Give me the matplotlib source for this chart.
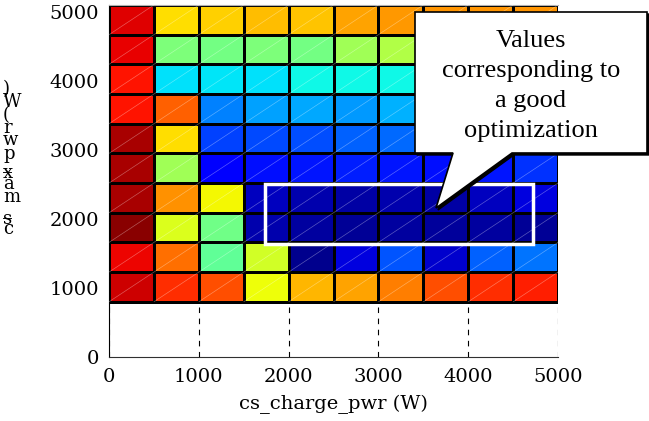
import numpy as np
import matplotlib
matplotlib.use("Agg")
import matplotlib.pyplot as plt
from matplotlib.patches import Polygon, Rectangle
from matplotlib.collections import LineCollection
from matplotlib.font_manager import FontProperties

# cell edges (W)
x_edges = np.arange(0, 5001, 500)
y_edges = np.linspace(800, 5100, 11)

# colour level (jet, 0..1) of each cell, one list per row, bottom row first
row_800 = [0.93, 0.86, 0.826, 0.64, 0.715, 0.738, 0.775, 0.826, 0.86, 0.876]
row_1230 = [0.905, 0.79, 0.467, 0.603, 0.014, 0.083, 0.21, 0.07, 0.22, 0.242]
row_1660 = [0.99, 0.615, 0.486, 0.042, 0.028, 0.022, 0.028, 0.024, 0.028, 0.02]
row_2090 = [0.963, 0.757, 0.648, 0.056, 0.042, 0.035, 0.042, 0.035, 0.056, 0.083]
row_2520 = [0.963, 0.545, 0.12, 0.14, 0.148, 0.156, 0.148, 0.14, 0.148, 0.172]
row_2950 = [0.963, 0.673, 0.19, 0.196, 0.203, 0.22, 0.227, 0.2, 0.2, 0.21]
row_3380 = [0.89, 0.808, 0.25, 0.282, 0.29, 0.274, 0.297, 0.28, 0.27, 0.26]
row_3810 = [0.888, 0.345, 0.35, 0.345, 0.37, 0.37, 0.37, 0.36, 0.36, 0.36]
row_4240 = [0.91, 0.5, 0.49, 0.5, 0.49, 0.545, 0.563, 0.55, 0.55, 0.55]
row_4670 = [0.917, 0.673, 0.69, 0.708, 0.70, 0.735, 0.748, 0.75, 0.75, 0.75]

x_ticks = [0, 1000, 2000, 3000, 4000, 5000]
y_ticks = [0, 1000, 2000, 3000, 4000, 5000]
x_label = "cs_charge_pwr (W)"
y_label = "cs_max_pwr (W)"
note = "Values\ncorresponding to\na good\noptimization"

# region marked as good
good_x = (1740, 4720)
good_y = (1640, 2510)

levels = np.array([row_800, row_1230, row_1660, row_2090, row_2520,
                   row_2950, row_3380, row_3810, row_4240, row_4670])

W, H = 649, 421
fig = plt.figure(figsize=(W / 100, H / 100), dpi=100)
ax = fig.add_axes([109 / W, 64 / H, 449 / W, 352 / H])

ax.pcolormesh(x_edges, y_edges, levels, cmap="jet", vmin=0, vmax=1,
              edgecolors="black", linewidth=0.8, zorder=2)

# faint diagonals inside the cells
segs = []
for i in range(len(y_edges) - 1):
    for j in range(len(x_edges) - 1):
        segs.append([(x_edges[j], y_edges[i]), (x_edges[j + 1], y_edges[i + 1])])
ax.add_collection(LineCollection(segs, colors="white", linewidths=0.5,
                                 alpha=0.35, zorder=3))

ax.add_patch(Rectangle((good_x[0], good_y[0]), good_x[1] - good_x[0],
                       good_y[1] - good_y[0], fill=False, edgecolor="white",
                       linewidth=2.5, zorder=4))

ax.set_xlim(0, 5000)
ax.set_ylim(0, 5100)
ax.set_xticks(x_ticks)
ax.set_yticks(y_ticks)
ax.set_axisbelow(True)
ax.grid(axis="x", color="black", linestyle=(0, (5, 5)), linewidth=0.8)
ax.tick_params(length=0, labelsize=14)
ax.tick_params(axis="x", pad=8)
ax.tick_params(axis="y", pad=7)
for lab in ax.get_xticklabels() + ax.get_yticklabels():
    lab.set_family("DejaVu Serif")
ax.set_xlabel(x_label, fontsize=14, family="DejaVu Serif", labelpad=6)

ax.spines["right"].set_visible(False)
ax.spines["top"].set_color("#b0b0b0")
ax.spines["left"].set_color("black")
ax.spines["bottom"].set_color("#303030")


def fxy(px, py):
    return (px / W, 1 - py / H)


# y label drawn as upright characters stacked bottom to top
prop = FontProperties(family="DejaVu Serif", size=13)
fig.canvas.draw()
rend = fig.canvas.get_renderer()
adv = []
for ch in y_label:
    w, h, d = rend.get_text_width_height_descent(ch if ch != " " else "i", prop, ismath=False)
    adv.append(w)
adv = np.array(adv)
scale = (234 - 86) / adv.sum()
pos = 234 - (np.cumsum(adv) - adv / 2) * scale
for ch, py in zip(y_label, pos):
    if ch != " ":
        fig.text(*fxy(3, py), ch, fontproperties=prop, ha="left", va="center")

# callout
box = [(415, 12), (647, 12), (647, 153), (512, 153), (436, 208), (453, 153), (415, 153)]
shadow = Polygon([fxy(px + 2, py + 2) for px, py in box], closed=True,
                 transform=fig.transFigure, facecolor="black", edgecolor="black",
                 linewidth=1, zorder=5)
callout = Polygon([fxy(px, py) for px, py in box], closed=True,
                  transform=fig.transFigure, facecolor="white", edgecolor="black",
                  linewidth=1.2, zorder=6)
fig.add_artist(shadow)
fig.add_artist(callout)
fig.text(*fxy(531, 86), note, ha="center", va="center", fontsize=19,
         family="Liberation Serif", linespacing=1.47, zorder=7)

fig.savefig("out.png", dpi=100)
